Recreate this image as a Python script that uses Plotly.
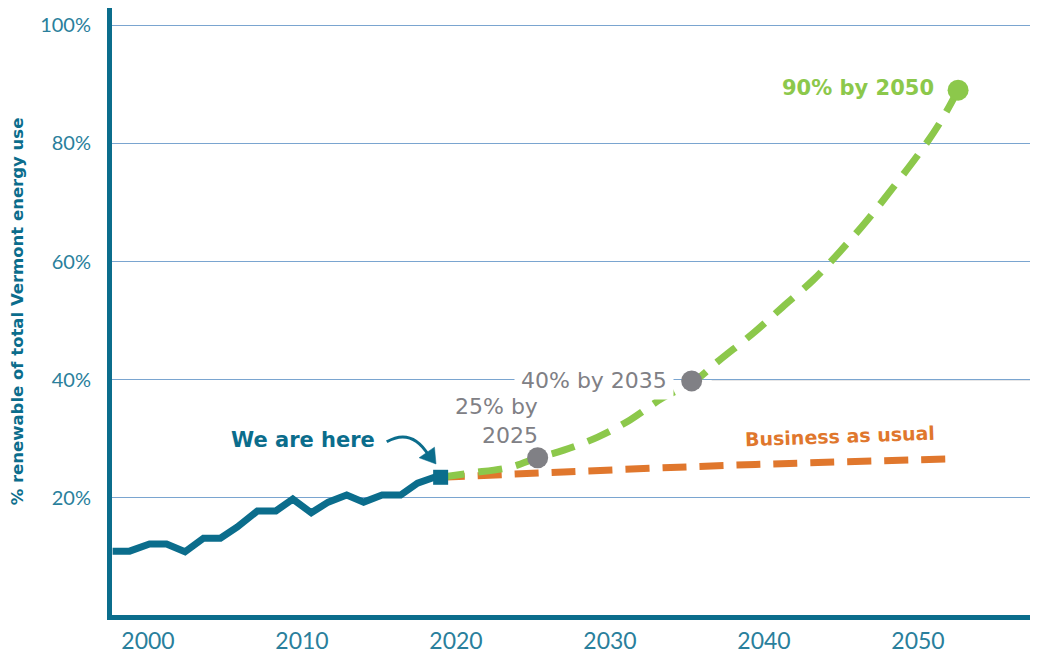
import plotly.graph_objects as go

# Historical (blue) series
hist_years = [1997.7, 1998.8, 2000.1, 2001.2, 2002.4, 2003.6, 2004.7, 2005.8, 2007.1, 2008.3,
              2009.4, 2010.6, 2011.7, 2012.9, 2014.0, 2015.2, 2016.4, 2017.5, 2018.6, 2019.0]
hist_pct = [11.0, 11.0, 12.2, 12.2, 10.9, 13.2, 13.2, 15.1, 17.8, 17.8,
            19.8, 17.5, 19.3, 20.5, 19.3, 20.5, 20.5, 22.5, 23.5, 23.5]

# Target pathway (green)
goal_years = [2019.0, 2020.9, 2023.5, 2025.3, 2027.0, 2029.2, 2031.3, 2033.4, 2035.4, 2037.1,
              2039.3, 2041.2, 2043.2, 2044.9, 2046.7, 2048.4, 2050.1, 2051.4, 2052.6]
goal_pct = [23.5, 24.2, 25.2, 26.8, 28.1, 30.3, 33.2, 36.9, 39.6, 43.3,
            47.9, 52.3, 56.9, 61.6, 67.0, 72.6, 78.4, 83.4, 89.0]

# Business as usual (orange)
bau_years = [2019.0, 2027.0, 2035.4, 2043.5, 2051.9]
bau_pct = [23.5, 24.4, 25.3, 26.0, 26.6]

# Milestones
milestone_years = [2025.3, 2035.3]
milestone_pct = [26.8, 39.8]
end_year = [2052.6]
end_pct = [89.0]
here_year = [2019.0]
here_pct = [23.5]

x_ticks = [2000, 2010, 2020, 2030, 2040, 2050]
y_ticks = [20, 40, 60, 80, 100]
y_tick_text = ["20%", "40%", "60%", "80%", "100%"]

TEAL = "#0b6d8c"
TICK = "#2a7f9c"
GREEN = "#8cc84b"
ORANGE = "#e0772d"
GRAY = "#808085"
GRID = "#7aa5d0"

fig = go.Figure()

fig.add_trace(go.Scatter(x=bau_years, y=bau_pct, mode="lines",
                         line=dict(color=ORANGE, width=7, dash="24px,13px", shape="spline"),
                         hoverinfo="skip"))
fig.add_trace(go.Scatter(x=goal_years, y=goal_pct, mode="lines",
                         line=dict(color=GREEN, width=7, dash="24px,14px", shape="spline"),
                         hoverinfo="skip"))
fig.add_trace(go.Scatter(x=hist_years, y=hist_pct, mode="lines",
                         line=dict(color=TEAL, width=7),
                         hoverinfo="skip"))
fig.add_trace(go.Scatter(x=here_year, y=here_pct, mode="markers",
                         marker=dict(symbol="square", size=15, color=TEAL),
                         hoverinfo="skip"))
fig.add_trace(go.Scatter(x=milestone_years, y=milestone_pct, mode="markers",
                         marker=dict(symbol="circle", size=21, color=GRAY),
                         hoverinfo="skip"))
fig.add_trace(go.Scatter(x=end_year, y=end_pct, mode="markers",
                         marker=dict(symbol="circle", size=21, color=GREEN),
                         hoverinfo="skip"))

AFONT = "DejaVu Sans"
TFONT = "Lato"

annotations = [
    dict(x=2035.3, y=39.8, xref="x", yref="y", text="40% by 2035", showarrow=False,
         xanchor="right", xshift=-18, bgcolor="white", borderpad=6,
         font=dict(family=AFONT, size=22, color=GRAY)),
    dict(x=2025.3, y=26.8, xref="x", yref="y", text="25% by<br>2025", showarrow=False,
         xanchor="right", yanchor="bottom", align="right", yshift=8, xshift=2,
         font=dict(family=AFONT, size=22, color=GRAY)),
    dict(x=2052.6, y=89.3, xref="x", yref="y", text="<b>90% by 2050</b>", showarrow=False,
         xanchor="right", xshift=-22,
         font=dict(family=AFONT, size=21, color=GREEN)),
    dict(x=2044.9, y=30.5, xref="x", yref="y", text="<b>Business as usual</b>", showarrow=False,
         textangle=-2,
         font=dict(family=AFONT, size=19, color=ORANGE)),
    dict(x=2014.87, y=29.8, xref="x", yref="y", text="<b>We are here</b>", showarrow=False,
         xanchor="right",
         font=dict(family=AFONT, size=21, color=TEAL)),
]

shapes = [
    # gray continuation of the 40% gridline
    dict(type="line", xref="x", yref="y", x0=2036.6, x1=2057.4, y0=40, y1=40,
         line=dict(color="#9a9a9e", width=1.2), layer="below"),
    # curved arrow for "We are here"
    dict(type="path", xref="x", yref="y",
         path="M 2015.5,29.5 Q 2017.1,31.9 2018.2,27.3",
         line=dict(color=TEAL, width=3)),
    dict(type="path", xref="x", yref="y",
         path="M 2018.7,25.75 L 2017.6,26.8 L 2018.6,28.6 Z",
         fillcolor=TEAL, line=dict(color=TEAL, width=0.5)),
]

# The page body adds an 8px offset, so the figure is 8px smaller on each side
fig.update_layout(
    width=1030, height=647,
    margin=dict(l=104, r=6, t=0, b=40, autoexpand=False),
    paper_bgcolor="white", plot_bgcolor="white",
    showlegend=False,
    annotations=annotations,
    shapes=shapes,
    xaxis=dict(range=[1997.66, 2057.4], tickvals=x_ticks, ticktext=[str(v) for v in x_ticks],
               showgrid=False, zeroline=False, showline=True, linecolor=TEAL, linewidth=5,
               ticks="", ticklabelstandoff=1, automargin=False,
               tickfont=dict(family=TFONT, size=23, color=TICK)),
    yaxis=dict(range=[0.2, 102.9], tickvals=y_ticks, ticktext=y_tick_text,
               showgrid=True, gridcolor=GRID, gridwidth=1, zeroline=False,
               showline=True, linecolor=TEAL, linewidth=5, ticks="", ticklabelstandoff=12,
               automargin=False,
               tickfont=dict(family=TFONT, size=20, color=TICK),
               title=dict(text="<b>% renewable of total Vermont energy use</b>", standoff=30,
                          font=dict(family=AFONT, size=16.5, color=TEAL))),
)

fig.write_html("out.html")
